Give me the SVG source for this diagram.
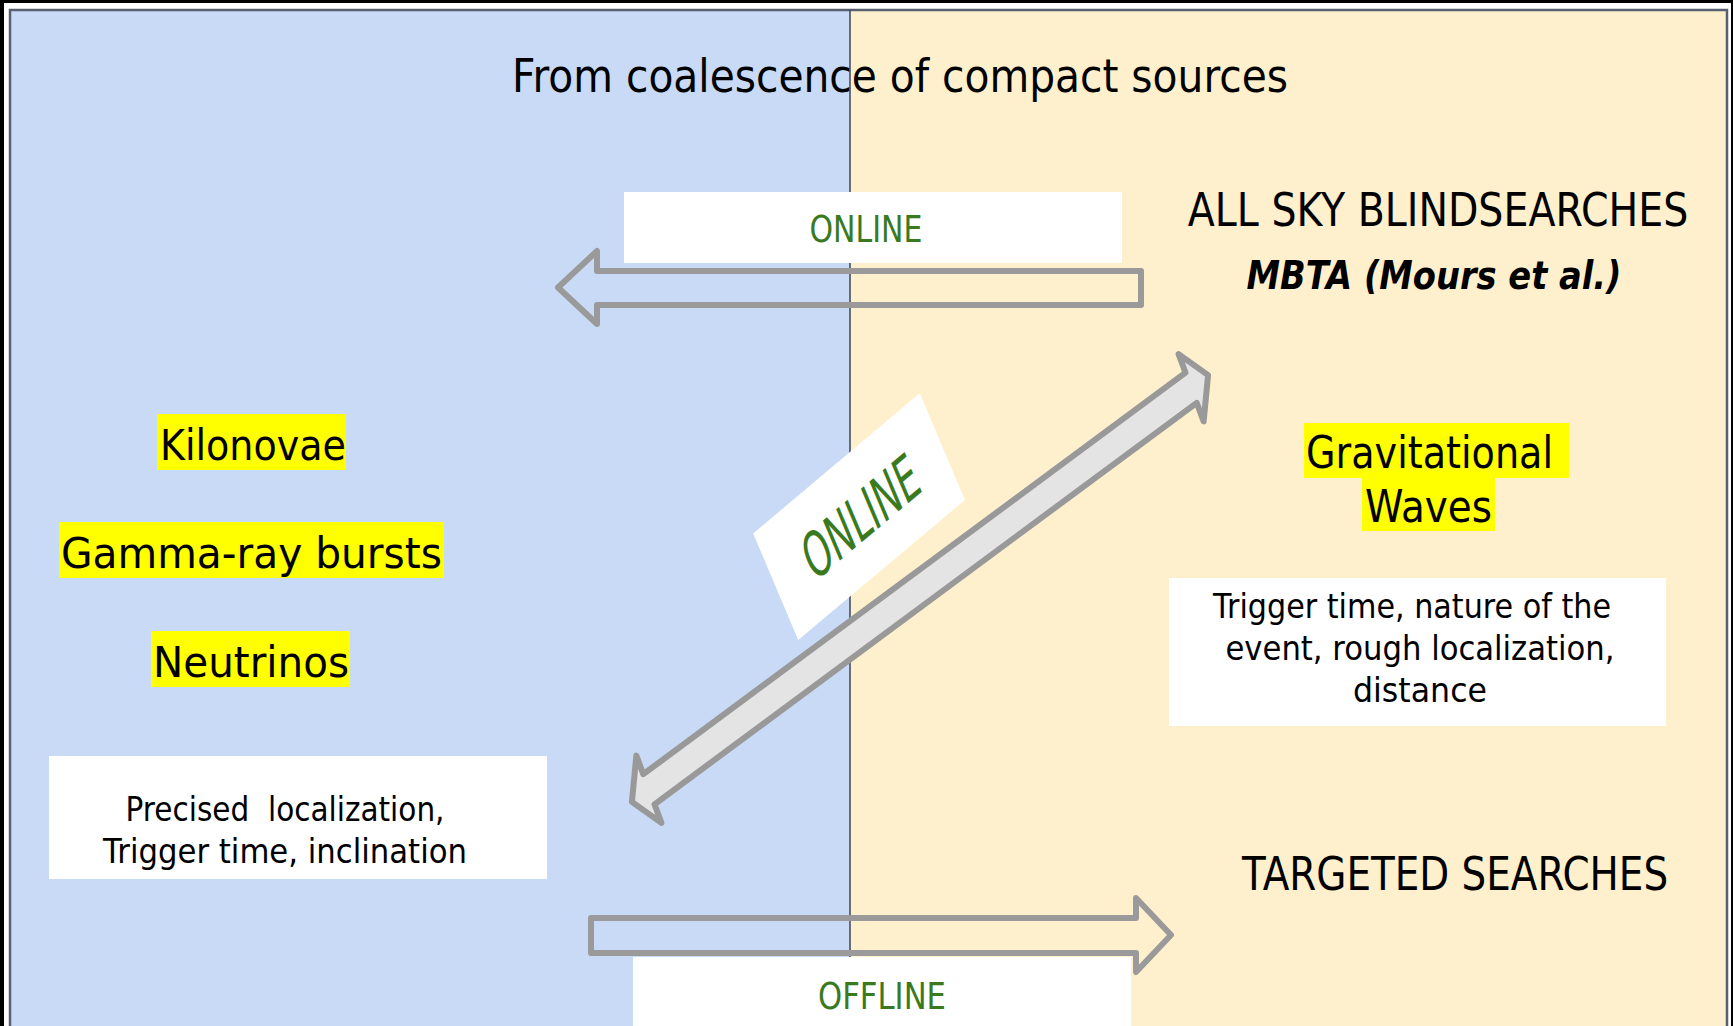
<svg xmlns="http://www.w3.org/2000/svg" width="1733" height="1026" viewBox="0 0 1733 1026">
<style>
.t{font-family:"DejaVu Sans",Verdana,sans-serif;fill:#000}
.g{font-family:"DejaVu Sans",Verdana,sans-serif;fill:#3a7a1f}
.hl{fill:#ffff00}
.box{fill:#ffffff}
.harrow{fill:none;stroke:#9a9a9a;stroke-width:6;stroke-linejoin:round}
.darrow{fill:#e4e4e4;stroke:#999999;stroke-width:6;stroke-linejoin:round}
</style>
<rect x="0" y="0" width="1733" height="1026" fill="#000"/>
<rect x="4" y="3" width="1727" height="1030" fill="#fff"/>
<rect x="10" y="10" width="840" height="1030" fill="#c8daf5"/>
<rect x="850" y="10" width="877" height="1030" fill="#fff0cd"/>
<rect x="10" y="10" width="1717" height="1030" fill="none" stroke="#566070" stroke-width="2.5"/>
<line x1="850" y1="10" x2="850" y2="1026" stroke="#3a4458" stroke-width="1.5"/>

<g id="title">
<text class="t" x="900" y="92" font-size="46" text-anchor="middle" textLength="776" lengthAdjust="spacingAndGlyphs">From coalescence of compact sources</text>
</g>

<g id="online-top">
<rect class="box" x="624" y="192" width="498" height="71"/>
<text class="g" x="866" y="242" font-size="37" text-anchor="middle" textLength="113" lengthAdjust="spacingAndGlyphs">ONLINE</text>
</g>

<g id="online-diag">
<g transform="translate(859,516.7) scale(0.709,1) rotate(-30.8)">
<rect class="box" x="-136.8" y="-62.1" width="273.6" height="124.2"/>
<text class="g" x="2" y="24" font-size="64" text-anchor="middle" textLength="180" lengthAdjust="spacingAndGlyphs">ONLINE</text>
</g>
</g>

<g id="offline">
<rect class="box" x="633" y="957" width="498" height="75"/>
<text class="g" x="882" y="1009" font-size="37" text-anchor="middle" textLength="128" lengthAdjust="spacingAndGlyphs">OFFLINE</text>
</g>

<g id="connectors">
<path class="harrow" d="M597,271 L1141,271 L1141,305 L597,305 L597,324 L558,287.5 L597,251 Z"/>
<path class="harrow" d="M591,918 L1136,918 L1136,898 L1171,935 L1136,972 L1136,953 L591,953 Z"/>
<g transform="translate(920,588.5) scale(0.709,1) rotate(-27.7)">
<path class="darrow" vector-effect="non-scaling-stroke" d="M-458.9,0 L-431.9,-38 L-431.9,-17 L431.9,-17 L431.9,-38 L458.9,0 L431.9,38 L431.9,17 L-431.9,17 L-431.9,38 Z"/>
</g>
</g>

<g id="all-sky">
<text class="t" transform="translate(1438,226) scale(0.834,1)" x="0" y="0" font-size="47" text-anchor="middle" textLength="600" lengthAdjust="spacingAndGlyphs">ALL SKY BLINDSEARCHES</text>
</g>
<g id="mbta">
<text class="t" x="1434" y="289" font-size="39" font-weight="bold" font-style="italic" text-anchor="middle" textLength="375" lengthAdjust="spacingAndGlyphs">MBTA (Mours et al.)</text>
</g>

<g id="gw">
<rect class="hl" x="1304" y="423" width="265" height="55"/>
<rect class="hl" x="1362" y="477" width="133" height="54"/>
<text class="t" x="1306" y="468" font-size="45" textLength="247" lengthAdjust="spacingAndGlyphs">Gravitational</text>
<text class="t" x="1365" y="522" font-size="45" textLength="127" lengthAdjust="spacingAndGlyphs">Waves</text>
</g>

<g id="gw-info">
<rect class="box" x="1169" y="578" width="497" height="148"/>
<text class="t" x="1412" y="618" font-size="33" text-anchor="middle" textLength="398" lengthAdjust="spacingAndGlyphs">Trigger time, nature of the</text>
<text class="t" x="1420" y="660" font-size="33" text-anchor="middle" textLength="389" lengthAdjust="spacingAndGlyphs">event, rough localization,</text>
<text class="t" x="1420" y="702" font-size="33" text-anchor="middle" textLength="134" lengthAdjust="spacingAndGlyphs">distance</text>
</g>

<g id="kilonovae">
<rect class="hl" x="157" y="414" width="189" height="56"/>
<text class="t" x="160" y="460" font-size="43" textLength="186" lengthAdjust="spacingAndGlyphs">Kilonovae</text>
</g>
<g id="grb">
<rect class="hl" x="59" y="522" width="385" height="56"/>
<text class="t" x="61" y="568" font-size="43" textLength="381" lengthAdjust="spacingAndGlyphs">Gamma-ray bursts</text>
</g>
<g id="neutrinos">
<rect class="hl" x="151" y="631" width="199" height="56"/>
<text class="t" x="153" y="677" font-size="43" textLength="196" lengthAdjust="spacingAndGlyphs">Neutrinos</text>
</g>

<g id="em-info">
<rect class="box" x="49" y="756" width="498" height="123"/>
<text class="t" x="285" y="821" font-size="33" text-anchor="middle" textLength="319" lengthAdjust="spacingAndGlyphs">Precised&#160; localization,</text>
<text class="t" x="285" y="863" font-size="33" text-anchor="middle" textLength="364" lengthAdjust="spacingAndGlyphs">Trigger time, inclination</text>
</g>

<g id="targeted">
<text class="t" transform="translate(1455,890) scale(0.818,1)" x="0" y="0" font-size="47" text-anchor="middle" textLength="521" lengthAdjust="spacingAndGlyphs">TARGETED SEARCHES</text>
</g>
</svg>
